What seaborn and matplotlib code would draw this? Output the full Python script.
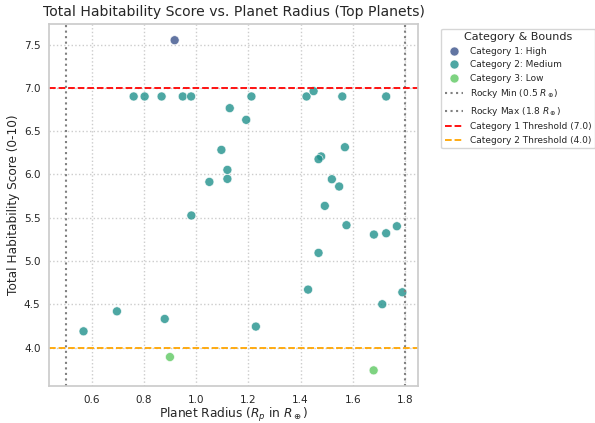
import seaborn as sns
import matplotlib.pyplot as plt
import pandas as pd

# planets
radius_cat1 = [0.918]
score_cat1 = [7.55]

radius_cat2 = [0.761, 0.803, 0.868, 0.949, 0.981, 1.129, 1.097, 1.120, 1.120, 1.051, 0.982,
               1.212, 1.423, 1.450, 1.560, 1.728, 1.192, 1.570, 1.479, 1.469, 1.520, 1.548, 1.493,
               0.569, 0.697, 0.880,
               1.576, 1.681, 1.728, 1.769, 1.469, 1.429, 1.790, 1.713, 1.229]
score_cat2 = [6.90, 6.90, 6.90, 6.90, 6.90, 6.765, 6.283, 6.052, 5.948, 5.913, 5.525,
              6.90, 6.90, 6.962, 6.90, 6.90, 6.63, 6.314, 6.207, 6.176, 5.944, 5.86, 5.636,
              4.187, 4.418, 4.33,
              5.413, 5.305, 5.32, 5.401, 5.093, 4.669, 4.638, 4.50, 4.242]

radius_cat3 = [0.900, 1.680]
score_cat3 = [3.89, 3.736]

categories = ["Category 1: High", "Category 2: Medium", "Category 3: Low"]

df = pd.DataFrame({
    "radius": radius_cat1 + radius_cat2 + radius_cat3,
    "score": score_cat1 + score_cat2 + score_cat3,
    "category": [categories[0]] * len(radius_cat1)
    + [categories[1]] * len(radius_cat2)
    + [categories[2]] * len(radius_cat3),
})

sns.set_theme(style="whitegrid", rc={"grid.linestyle": ":"})

fig, ax = plt.subplots(figsize=(5.95, 4.23), dpi=100)
fig.subplots_adjust(left=0.082, right=0.703, top=0.943, bottom=0.087)

sns.scatterplot(data=df, x="radius", y="score", hue="category", hue_order=categories,
                palette="viridis", s=42, alpha=0.8, ax=ax)

ax.axvline(0.5, color="gray", linestyle=":", linewidth=1.5, label=r"Rocky Min (0.5 $R_\oplus$)")
ax.axvline(1.8, color="gray", linestyle=":", linewidth=1.5, label=r"Rocky Max (1.8 $R_\oplus$)")
ax.axhline(7.0, color="red", linestyle="--", linewidth=1.3, label="Category 1 Threshold (7.0)")
ax.axhline(4.0, color="orange", linestyle="--", linewidth=1.3, label="Category 2 Threshold (4.0)")

ax.set_xlim(0.436, 1.851)
ax.set_ylim(3.553, 7.736)
ax.tick_params(labelsize=7.5, length=0, pad=6)
ax.set_title("Total Habitability Score vs. Planet Radius (Top Planets)", fontsize=10.1)
ax.set_xlabel(r"Planet Radius ($R_p$ in $R_\oplus$)", fontsize=8.7, labelpad=1)
ax.set_ylabel("Total Habitability Score (0-10)", fontsize=8.7, labelpad=3)

ax.legend(title="Category & Bounds", bbox_to_anchor=(1.05, 1), loc="upper left",
          fontsize=6.5, title_fontsize=8)

fig.savefig("out.png", dpi=100)
